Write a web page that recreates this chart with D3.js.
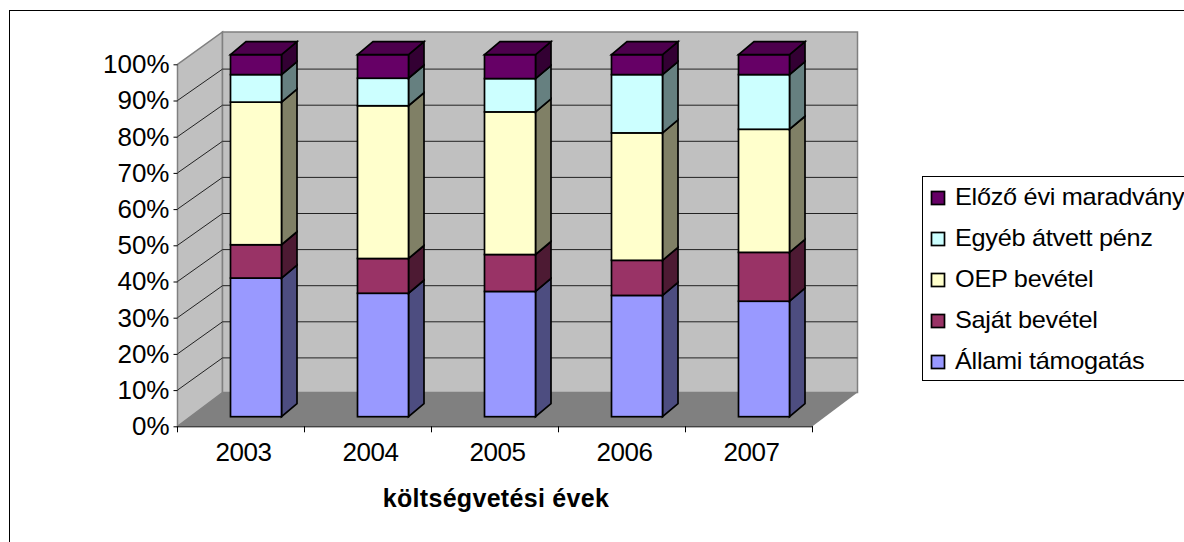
<!DOCTYPE html>
<html>
<head>
<meta charset="utf-8">
<script src="https://cdn.jsdelivr.net/npm/d3@7"></script>
<style>
  html, body { margin: 0; padding: 0; background: #fff; overflow: hidden; }
  svg { display: block; }
  text { font-family: "Liberation Sans", Arial, sans-serif; fill: #000; }
</style>
</head>
<body>
<figure id="bar" style="margin:0"></figure>
<script>
const years = ["2003", "2004", "2005", "2006", "2007"];
const seriesNames = ["Állami támogatás", "Saját bevétel", "OEP bevétel", "Egyéb átvett pénz", "Előző évi maradvány"];
const allami = [38.3, 34.1, 34.6, 33.5, 31.9];
const sajat = [9.2, 9.6, 10.2, 9.7, 13.5];
const oep = [39.4, 42.2, 39.4, 35.2, 34.0];
const egyeb = [7.6, 7.6, 9.2, 16.1, 15.1];
const elozo = [5.5, 6.5, 6.6, 5.5, 5.5];
const frontColors = ["#9999ff", "#993366", "#ffffcc", "#ccffff", "#660066"];
const yTicks = [0, 10, 20, 30, 40, 50, 60, 70, 80, 90, 100];
const xTitle = "költségvetési évek";

const width = 1184, height = 542;
const rows = years.map((year, i) => ({
  year,
  [seriesNames[0]]: allami[i],
  [seriesNames[1]]: sajat[i],
  [seriesNames[2]]: oep[i],
  [seriesNames[3]]: egyeb[i],
  [seriesNames[4]]: elozo[i]
}));
const stacked = d3.stack().keys(seriesNames).offset(d3.stackOffsetExpand)(rows);

const svg = d3.select("figure#bar").append("svg")
  .attr("width", width)
  .attr("height", height);

// chart frame
svg.append("rect")
  .attr("x", 9.5).attr("y", 10.5)
  .attr("width", width + 20).attr("height", height + 20)
  .attr("fill", "#fff").attr("stroke", "#000");

const x = d3.scaleBand().domain(years).range([177.5, 812.5]);
const y = d3.scaleLinear().domain([0, 1]).range([426.3, 64.3]);
// back wall has its own vertical scale, the box is not quite a parallelogram
const yBack = d3.scaleLinear().domain([0, 1]).range([394, 33]);

// depth of the box and of the bars inside it
const boxDx = 45, wallTop = 32, floorBack = 392.5;
const barInset = 38, barWidth = 51;
const barDx0 = 15, barDy0 = -9.6, barDx = 15.5, barDy = -13;

const pts = a => a.map(p => p.join(",")).join(" ");
const x0 = x.range()[0], x1 = x.range()[1];

// walls and floor
svg.append("polygon")
  .attr("points", pts([[x0, y(1)], [x0 + boxDx, wallTop], [x0 + boxDx, floorBack], [x0, y(0)]]))
  .attr("fill", "#c0c0c0").attr("stroke", "#808080").attr("stroke-width", 1.5);
svg.append("polygon")
  .attr("points", pts([[x0 + boxDx, wallTop], [x1 + boxDx, wallTop], [x1 + boxDx, floorBack], [x0 + boxDx, floorBack]]))
  .attr("fill", "#c0c0c0").attr("stroke", "#808080").attr("stroke-width", 1.5);

// gridlines
const gridVals = yTicks.filter(d => d > 0 && d < 100).map(d => d / 100);
svg.append("g").selectAll("path").data(gridVals).enter().append("path")
  .attr("d", d => `M${x0},${y(d)}L${x0 + boxDx},${yBack(d)}L${x1 + boxDx},${yBack(d)}`)
  .attr("fill", "none").attr("stroke", "#222").attr("stroke-width", 1);

svg.append("polygon")
  .attr("points", pts([[x0, y(0)], [x1, y(0)], [x1 + boxDx, floorBack], [x0 + boxDx, floorBack]]))
  .attr("fill", "#808080");

// bars: one 3d block per stacked segment, bottom up
const blocks = [];
stacked.forEach((s, si) => {
  s.forEach(d => {
    blocks.push({ si, year: d.data.year, lo: d[0], hi: d[1], top: si === stacked.length - 1 });
  });
});
const sideColor = c => { const r = d3.rgb(c); return d3.rgb(r.r * 0.5, r.g * 0.5, r.b * 0.5).formatHex(); };
const topColor = c => { const r = d3.rgb(c); return d3.rgb(r.r * 0.75, r.g * 0.75, r.b * 0.75).formatHex(); };

const bars = svg.append("g").selectAll("g").data(blocks).enter().append("g")
  .attr("stroke", "#000").attr("stroke-width", 1.7).attr("stroke-linejoin", "miter");

const frontX = d => x(d.year) + barInset + barDx0;
const fy = v => y(v) + barDy0;

bars.append("polygon")
  .attr("points", d => pts([
    [frontX(d) + barWidth, fy(d.hi)], [frontX(d) + barWidth + barDx, fy(d.hi) + barDy],
    [frontX(d) + barWidth + barDx, fy(d.lo) + barDy], [frontX(d) + barWidth, fy(d.lo)]
  ]))
  .attr("fill", d => sideColor(frontColors[d.si]));
bars.append("rect")
  .attr("x", d => frontX(d))
  .attr("y", d => fy(d.hi))
  .attr("width", barWidth)
  .attr("height", d => fy(d.lo) - fy(d.hi))
  .attr("fill", d => frontColors[d.si]);
bars.filter(d => d.top).append("polygon")
  .attr("points", d => pts([
    [frontX(d), fy(d.hi)], [frontX(d) + barDx, fy(d.hi) + barDy],
    [frontX(d) + barWidth + barDx, fy(d.hi) + barDy], [frontX(d) + barWidth, fy(d.hi)]
  ]))
  .attr("fill", d => topColor(frontColors[d.si]));

// axes
const fontSize = 26;
const yAxis = svg.append("g")
  .attr("transform", `translate(${x0},0)`)
  .call(d3.axisLeft(d3.scaleLinear().domain([0, 100]).range(y.range()))
    .tickValues(yTicks).tickFormat(d => d + "%").tickSize(4).tickPadding(4));
const xAxis = svg.append("g")
  .attr("transform", `translate(0,${y(0)})`)
  .call(d3.axisBottom(x).tickSize(0).tickPadding(16));
xAxis.selectAll(".tick line").remove();
xAxis.selectAll(".tick text").attr("dx", 2.5);
xAxis.append("g").selectAll("line").data(years.concat(["end"])).enter().append("line")
  .attr("x1", d => d === "end" ? x1 : x(d))
  .attr("x2", d => d === "end" ? x1 : x(d))
  .attr("y2", 6)
  .attr("stroke", "#000");
svg.selectAll(".domain").attr("stroke", "#000");
yAxis.select(".domain").remove();
yAxis.selectAll("text").style("font-size", fontSize + "px").style("letter-spacing", "0px")
  .style("font-family", '"Liberation Sans"');
xAxis.selectAll("text").style("font-size", fontSize + "px").style("letter-spacing", "-0.5px")
  .style("font-family", '"Liberation Sans"');

svg.append("text")
  .attr("x", 496).attr("y", 507)
  .attr("text-anchor", "middle")
  .style("font-size", "25px").style("font-weight", "bold").style("letter-spacing", "0.3px")
  .text(xTitle);

// legend
const legend = svg.append("g");
legend.append("rect")
  .attr("x", 922.5).attr("y", 176.5)
  .attr("width", 300).attr("height", 204)
  .attr("fill", "#fff").attr("stroke", "#000");
const legendY = d3.scalePoint().domain(seriesNames.slice().reverse()).range([198, 362]);
const items = legend.selectAll("g").data(seriesNames).enter().append("g")
  .attr("transform", d => `translate(0,${legendY(d)})`);
items.append("rect")
  .attr("x", 931.5).attr("y", -6.5)
  .attr("width", 13).attr("height", 13)
  .attr("fill", (d, i) => frontColors[i])
  .attr("stroke", "#000").attr("stroke-width", 1.7);
items.append("text")
  .attr("transform", "translate(955,7) scale(1.1,1)")
  .style("font-size", "23px").style("letter-spacing", "-0.25px")
  .text(d => d);
</script>
</body>
</html>
